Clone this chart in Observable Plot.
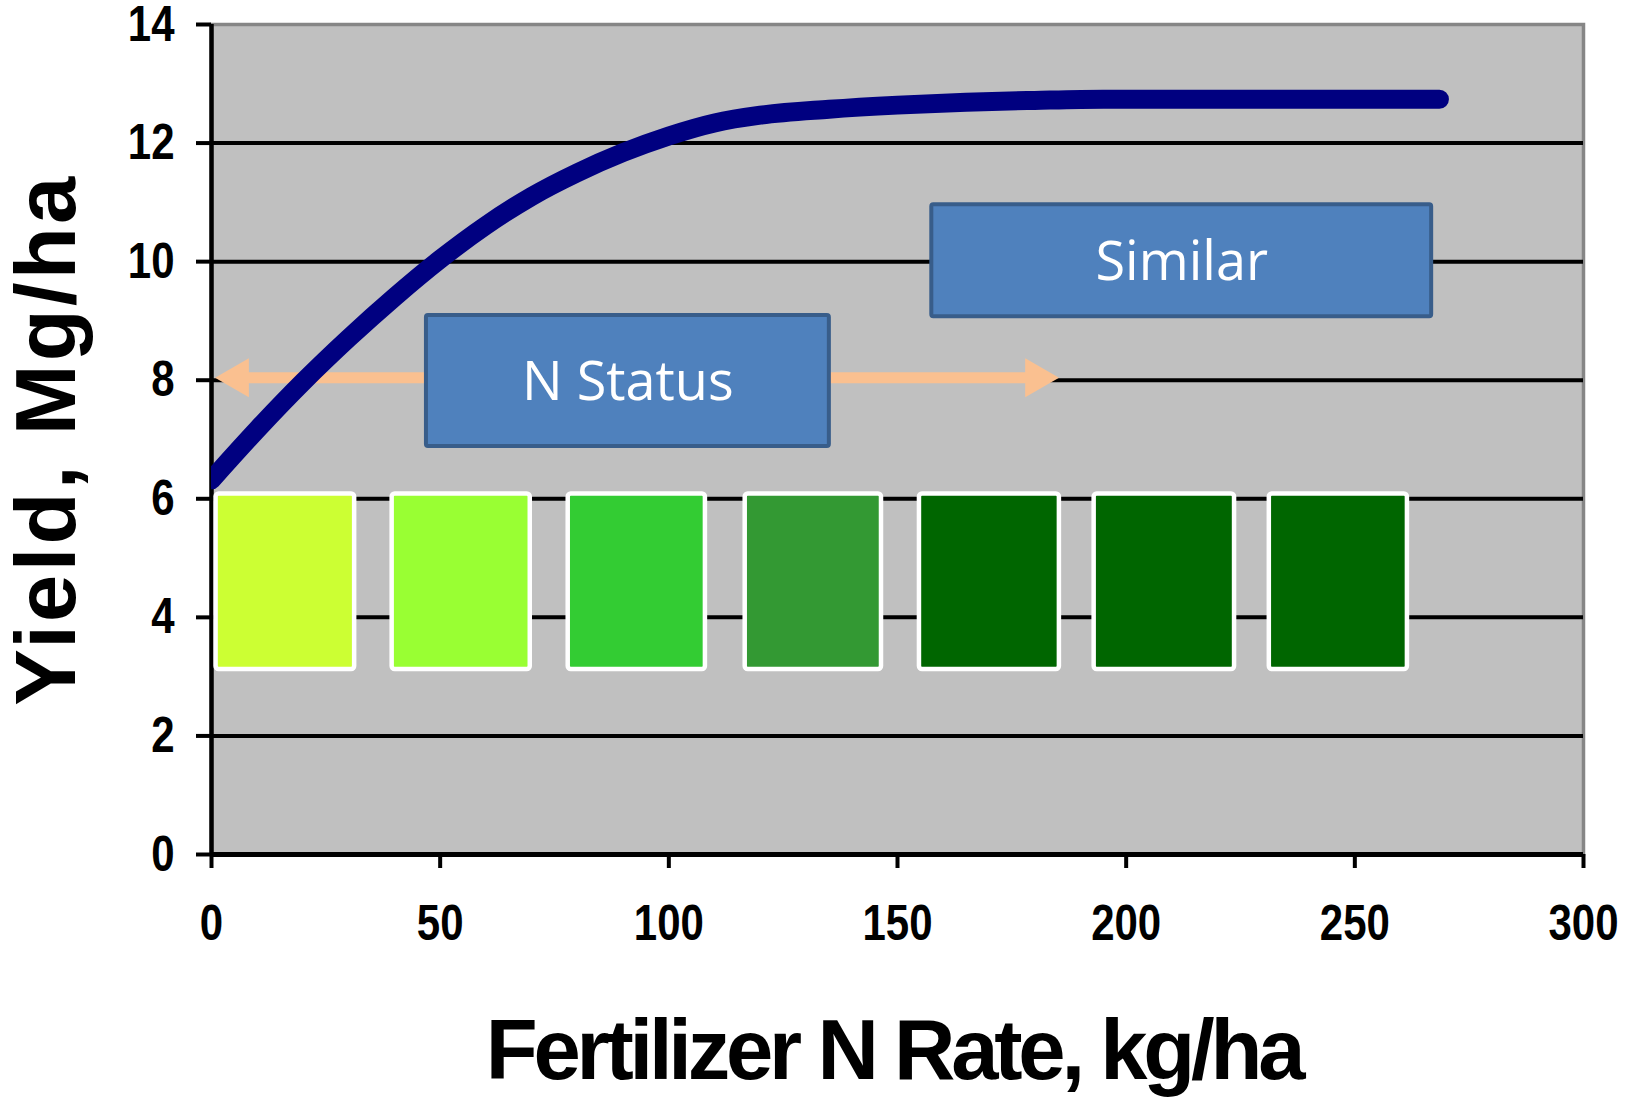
<!DOCTYPE html>
<html>
<head>
<meta charset="utf-8">
<script src="https://cdn.jsdelivr.net/npm/d3@7"></script>
<script src="https://cdn.jsdelivr.net/npm/@observablehq/plot@0.6"></script>
<style>
  html, body { margin: 0; padding: 0; background: #ffffff; }
  #chart svg { display: block; overflow: visible; }
</style>
</head>
<body>
<div id="chart"></div>
<script>
// ---- data ----
const xTicks = [0, 50, 100, 150, 200, 250, 300];
const yTicks = [0, 2, 4, 6, 8, 10, 12, 14];
const gridY = [2, 4, 6, 8, 10, 12];

// yield response curve
const nRate = [0, 10, 20, 30, 40, 50, 60, 70, 80, 90, 100, 110, 120, 135, 150, 165, 180, 195, 210, 230, 250, 268.5];
const yieldMg = [6.32, 7.17, 7.97, 8.71, 9.40, 10.04, 10.61, 11.10, 11.50, 11.84, 12.12, 12.34, 12.47, 12.57, 12.64, 12.69, 12.72, 12.74, 12.74, 12.74, 12.74, 12.74];

// colour chips (N status)
const chipStart = [1, 39.5, 78, 116.7, 154.8, 193, 231.3];
const chipEnd = [31.3, 69.7, 108, 146.5, 185.4, 223.7, 261.5];
const chipBottom = [3.12, 3.12, 3.12, 3.12, 3.12, 3.12, 3.12];
const chipTop = [6.08, 6.08, 6.08, 6.08, 6.08, 6.08, 6.08];
const chipColors = ["#CCFF33", "#99FF33", "#33CC33", "#339933", "#006600", "#006600", "#006600"];

// labelled boxes
const boxLabels = ["N Status", "Similar"];
const boxX1 = [47.0, 157.5];
const boxX2 = [135.1, 266.8];
const boxY1 = [6.88, 9.07];
const boxY2 = [9.09, 10.96];

// double-headed arrow
const arrowY = 8.04;
const arrowLeftTip = 0.9;
const arrowRightTip = 185.2;

// axis titles
const xTitle = ["Fertilizer N Rate, kg/ha"];
const yTitle = ["Yield, Mg/ha"];

// ---- tables built from the arrays ----
const curve = nRate.map((x, i) => ({x, y: yieldMg[i]}));
const chips = chipStart.map((x1, i) => ({x1, x2: chipEnd[i], y1: chipBottom[i], y2: chipTop[i], c: chipColors[i]}));
const boxes = boxLabels.map((label, i) => ({label, x1: boxX1[i], x2: boxX2[i], y1: boxY1[i], y2: boxY2[i]}));

const bold = "'Liberation Sans', Arial, sans-serif";

const chart = Plot.plot({
  width: 1648,
  height: 1100,
  marginLeft: 211,
  marginRight: 65,
  marginTop: 24,
  marginBottom: 246,
  style: {background: "#ffffff", color: "#000000", overflow: "visible"},
  x: {domain: [0, 300], axis: null},
  y: {domain: [0, 14], axis: null},
  marks: [
    Plot.frame({fill: "#C0C0C0", stroke: "#868686", strokeWidth: 3.5}),
    Plot.ruleY(gridY, {stroke: "#000000", strokeWidth: 4}),
    Plot.axisY({ticks: yTicks, tickSize: 15, tickPadding: 22, strokeWidth: 4, fontSize: 50, fontWeight: "bold", fontFamily: bold, label: null}),
    Plot.axisX({ticks: xTicks, tickSize: 14, tickPadding: 36, strokeWidth: 4, fontSize: 50, fontWeight: "bold", fontFamily: bold, label: null}),
    Plot.ruleX([0], {stroke: "#000000", strokeWidth: 4.5}),
    Plot.ruleY([0], {stroke: "#000000", strokeWidth: 5}),
    Plot.rect(chips, {x1: "x1", x2: "x2", y1: "y1", y2: "y2", fill: "c", stroke: "#ffffff", strokeWidth: 4.5, rx: 3}),
    Plot.ruleY([arrowY], {x1: arrowLeftTip + 4, x2: arrowRightTip - 4, stroke: "#FAC090", strokeWidth: 11}),
    Plot.dot([arrowLeftTip], {x: d => d, y: () => arrowY, symbol: "triangle", r: 14.5, rotate: -90, dx: 22, fill: "#FAC090", stroke: "none"}),
    Plot.dot([arrowRightTip], {x: d => d, y: () => arrowY, symbol: "triangle", r: 14.5, rotate: 90, dx: -22, fill: "#FAC090", stroke: "none"}),
    Plot.line(curve, {x: "x", y: "y", curve: "monotone-x", stroke: "#000080", strokeWidth: 19, strokeLinecap: "round", strokeLinejoin: "round", clip: true}),
    Plot.rect(boxes, {x1: "x1", x2: "x2", y1: "y1", y2: "y2", fill: "#4F81BD", stroke: "#385D8A", strokeWidth: 4, rx: 2}),
    Plot.text(boxes, {x: d => (d.x1 + d.x2) / 2, y: d => (d.y1 + d.y2) / 2, text: "label", fill: "#ffffff", fontSize: 54, fontFamily: "'Open Sans', 'Noto Sans', sans-serif", dy: 2}),
    Plot.text(yTitle, {text: d => d, frameAnchor: "left", textAnchor: "middle", lineAnchor: "middle", dx: -164, rotate: -90, fontSize: 85, fontWeight: "bold", fontFamily: bold, fill: "#000000"}),
    Plot.text(xTitle, {text: d => d, frameAnchor: "bottom", textAnchor: "middle", lineAnchor: "middle", dy: 197, dx: -4, fontSize: 85, fontWeight: "bold", fontFamily: bold, fill: "#000000"})
  ]
});

// condensed tick labels (Arial Narrow look) and title spacing
const tickLabels = new Set([...xTicks, ...yTicks].map(String));
d3.select(chart).selectAll("text").each(function() {
  const t = this.textContent;
  const sel = d3.select(this);
  if (t === yTitle[0]) sel.attr("letter-spacing", "3.3px");
  else if (t === xTitle[0]) sel.attr("letter-spacing", "-4.2px");
  else if (tickLabels.has(t)) {
    const tr = sel.attr("transform") || "";
    sel.attr("transform", tr + " scale(0.84,1)");
  }
});

document.getElementById("chart").appendChild(chart);
</script>
</body>
</html>
